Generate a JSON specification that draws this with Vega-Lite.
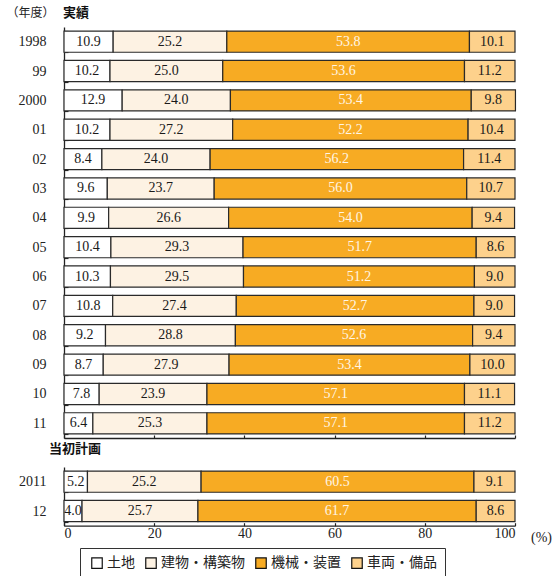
{
  "$schema": "https://vega.github.io/schema/vega-lite/v6.json",
  "padding": {"left": 5, "top": 6, "right": 5, "bottom": 0},
  "background": "white",
  "data": {"values": [
    {"year": "1998", "group": "実績", "cat": "土地", "value": 10.9},
    {"year": "1998", "group": "実績", "cat": "建物・構築物", "value": 25.2},
    {"year": "1998", "group": "実績", "cat": "機械・装置", "value": 53.8},
    {"year": "1998", "group": "実績", "cat": "車両・備品", "value": 10.1},
    {"year": "99", "group": "実績", "cat": "土地", "value": 10.2},
    {"year": "99", "group": "実績", "cat": "建物・構築物", "value": 25.0},
    {"year": "99", "group": "実績", "cat": "機械・装置", "value": 53.6},
    {"year": "99", "group": "実績", "cat": "車両・備品", "value": 11.2},
    {"year": "2000", "group": "実績", "cat": "土地", "value": 12.9},
    {"year": "2000", "group": "実績", "cat": "建物・構築物", "value": 24.0},
    {"year": "2000", "group": "実績", "cat": "機械・装置", "value": 53.4},
    {"year": "2000", "group": "実績", "cat": "車両・備品", "value": 9.8},
    {"year": "01", "group": "実績", "cat": "土地", "value": 10.2},
    {"year": "01", "group": "実績", "cat": "建物・構築物", "value": 27.2},
    {"year": "01", "group": "実績", "cat": "機械・装置", "value": 52.2},
    {"year": "01", "group": "実績", "cat": "車両・備品", "value": 10.4},
    {"year": "02", "group": "実績", "cat": "土地", "value": 8.4},
    {"year": "02", "group": "実績", "cat": "建物・構築物", "value": 24.0},
    {"year": "02", "group": "実績", "cat": "機械・装置", "value": 56.2},
    {"year": "02", "group": "実績", "cat": "車両・備品", "value": 11.4},
    {"year": "03", "group": "実績", "cat": "土地", "value": 9.6},
    {"year": "03", "group": "実績", "cat": "建物・構築物", "value": 23.7},
    {"year": "03", "group": "実績", "cat": "機械・装置", "value": 56.0},
    {"year": "03", "group": "実績", "cat": "車両・備品", "value": 10.7},
    {"year": "04", "group": "実績", "cat": "土地", "value": 9.9},
    {"year": "04", "group": "実績", "cat": "建物・構築物", "value": 26.6},
    {"year": "04", "group": "実績", "cat": "機械・装置", "value": 54.0},
    {"year": "04", "group": "実績", "cat": "車両・備品", "value": 9.4},
    {"year": "05", "group": "実績", "cat": "土地", "value": 10.4},
    {"year": "05", "group": "実績", "cat": "建物・構築物", "value": 29.3},
    {"year": "05", "group": "実績", "cat": "機械・装置", "value": 51.7},
    {"year": "05", "group": "実績", "cat": "車両・備品", "value": 8.6},
    {"year": "06", "group": "実績", "cat": "土地", "value": 10.3},
    {"year": "06", "group": "実績", "cat": "建物・構築物", "value": 29.5},
    {"year": "06", "group": "実績", "cat": "機械・装置", "value": 51.2},
    {"year": "06", "group": "実績", "cat": "車両・備品", "value": 9.0},
    {"year": "07", "group": "実績", "cat": "土地", "value": 10.8},
    {"year": "07", "group": "実績", "cat": "建物・構築物", "value": 27.4},
    {"year": "07", "group": "実績", "cat": "機械・装置", "value": 52.7},
    {"year": "07", "group": "実績", "cat": "車両・備品", "value": 9.0},
    {"year": "08", "group": "実績", "cat": "土地", "value": 9.2},
    {"year": "08", "group": "実績", "cat": "建物・構築物", "value": 28.8},
    {"year": "08", "group": "実績", "cat": "機械・装置", "value": 52.6},
    {"year": "08", "group": "実績", "cat": "車両・備品", "value": 9.4},
    {"year": "09", "group": "実績", "cat": "土地", "value": 8.7},
    {"year": "09", "group": "実績", "cat": "建物・構築物", "value": 27.9},
    {"year": "09", "group": "実績", "cat": "機械・装置", "value": 53.4},
    {"year": "09", "group": "実績", "cat": "車両・備品", "value": 10.0},
    {"year": "10", "group": "実績", "cat": "土地", "value": 7.8},
    {"year": "10", "group": "実績", "cat": "建物・構築物", "value": 23.9},
    {"year": "10", "group": "実績", "cat": "機械・装置", "value": 57.1},
    {"year": "10", "group": "実績", "cat": "車両・備品", "value": 11.1},
    {"year": "11", "group": "実績", "cat": "土地", "value": 6.4},
    {"year": "11", "group": "実績", "cat": "建物・構築物", "value": 25.3},
    {"year": "11", "group": "実績", "cat": "機械・装置", "value": 57.1},
    {"year": "11", "group": "実績", "cat": "車両・備品", "value": 11.2},
    {"year": "2011", "group": "当初計画", "cat": "土地", "value": 5.2},
    {"year": "2011", "group": "当初計画", "cat": "建物・構築物", "value": 25.2},
    {"year": "2011", "group": "当初計画", "cat": "機械・装置", "value": 60.5},
    {"year": "2011", "group": "当初計画", "cat": "車両・備品", "value": 9.1},
    {"year": "12", "group": "当初計画", "cat": "土地", "value": 4.0},
    {"year": "12", "group": "当初計画", "cat": "建物・構築物", "value": 25.7},
    {"year": "12", "group": "当初計画", "cat": "機械・装置", "value": 61.7},
    {"year": "12", "group": "当初計画", "cat": "車両・備品", "value": 8.6}
  ]},
  "transform": [
    {"stack": "value", "groupby": ["year"], "sort": [{"field": "cat", "order": "ascending"}], "as": ["v0", "v1"]},
    {"calculate": "(datum.v0 + datum.v1) / 2", "as": "mid"}
  ],
  "config": {
    "view": {"stroke": null},
    "axis": {"grid": false, "domainColor": "#222", "tickColor": "#222", "domainWidth": 1.3, "tickWidth": 1.2, "labelFont": "Liberation Serif", "labelFontSize": 14, "labelColor": "#222"},
    "title": {"font": "Noto Sans CJK JP", "fontWeight": "bold", "fontSize": 13, "color": "#111"}
  },
  "spacing": 4,
  "vconcat": [
    {
      "title": {"text": "実績", "anchor": "start", "frame": "group", "dx": -1, "offset": -14},
      "width": 451,
      "height": 411,
      "transform": [{"filter": "datum.group == '実績'"}],
      "encoding": {
        "y": {"field": "year", "type": "nominal", "sort": null,
          "scale": {"paddingInner": 0.28, "paddingOuter": 0.14},
          "axis": {"title": "（年度）", "titleAngle": 0, "titleX": -34, "titleY": -15, "titleAlign": "center", "titleBaseline": "middle", "titleFont": "Noto Sans CJK JP", "titleFontWeight": "normal", "titleFontSize": 12, "titleColor": "#222", "tickBand": "extent", "tickSize": -4, "labelPadding": 22}}
      },
      "layer": [
        {"mark": {"type": "bar", "stroke": "#2a2a2a", "strokeWidth": 1.2},
         "encoding": {
           "x": {"field": "v0", "type": "quantitative", "scale": {"domain": [0, 100]}, "axis": {"labels": false, "tickSize": -3, "values": [0, 20, 40, 60, 80, 100], "title": null}},
           "x2": {"field": "v1"},
           "color": {"field": "cat", "type": "nominal",
             "scale": {"domain": ["土地", "建物・構築物", "機械・装置", "車両・備品"], "range": ["#ffffff", "#fdf2e3", "#f7ab23", "#fdd18c"]},
             "legend": {"title": "\u3000", "titleOrient": "left", "titleFontSize": 13, "titlePadding": 2, "orient": "none", "legendX": 16, "legendY": 521, "direction": "horizontal", "strokeColor": "#333", "padding": 8, "symbolType": "square", "symbolSize": 110, "symbolStrokeColor": "#111", "symbolStrokeWidth": 1.2, "symbolOpacity": 1, "labelFont": "Noto Sans CJK JP", "labelFontSize": 14, "labelColor": "#222", "columnPadding": 8, "labelOffset": 3}}
         }},
        {"mark": {"type": "text", "font": "Liberation Serif", "fontSize": 14},
         "encoding": {
           "x": {"field": "mid", "type": "quantitative"},
           "text": {"field": "value", "type": "quantitative", "format": ".1f"},
           "color": {"condition": {"test": "datum.cat == '機械・装置'", "value": "#fff6e6"}, "value": "#1a1a1a"}
         }}
      ]
    },
    {
      "title": {"text": "当初計画", "anchor": "start", "frame": "group", "dx": -15, "offset": 4},
      "width": 451,
      "height": 58.7,
      "transform": [{"filter": "datum.group == '当初計画'"}],
      "encoding": {
        "y": {"field": "year", "type": "nominal", "sort": null,
          "scale": {"paddingInner": 0.28, "paddingOuter": 0.14},
          "axis": {"title": null, "tickBand": "extent", "tickSize": -4, "labelPadding": 22}}
      },
      "layer": [
        {"mark": {"type": "bar", "stroke": "#2a2a2a", "strokeWidth": 1.2},
         "encoding": {
           "x": {"field": "v0", "type": "quantitative", "scale": {"domain": [0, 100]}, "axis": {"tickSize": -3, "values": [0, 20, 40, 60, 80, 100], "title": "(%)", "titleX": 477, "titleY": 12, "titleAlign": "center", "titleBaseline": "middle", "titleFont": "Liberation Serif", "titleFontWeight": "normal", "titleFontSize": 14, "titleColor": "#222", "labelPadding": 4}},
           "x2": {"field": "v1"},
           "color": {"field": "cat", "type": "nominal",
             "scale": {"domain": ["土地", "建物・構築物", "機械・装置", "車両・備品"], "range": ["#ffffff", "#fdf2e3", "#f7ab23", "#fdd18c"]},
             "legend": {"title": "\u3000", "titleOrient": "left", "titleFontSize": 13, "titlePadding": 2, "orient": "none", "legendX": 16, "legendY": 521, "direction": "horizontal", "strokeColor": "#333", "padding": 8, "symbolType": "square", "symbolSize": 110, "symbolStrokeColor": "#111", "symbolStrokeWidth": 1.2, "symbolOpacity": 1, "labelFont": "Noto Sans CJK JP", "labelFontSize": 14, "labelColor": "#222", "columnPadding": 8, "labelOffset": 3}}
         }},
        {"mark": {"type": "text", "font": "Liberation Serif", "fontSize": 14},
         "encoding": {
           "x": {"field": "mid", "type": "quantitative"},
           "text": {"field": "value", "type": "quantitative", "format": ".1f"},
           "color": {"condition": {"test": "datum.cat == '機械・装置'", "value": "#fff6e6"}, "value": "#1a1a1a"}
         }}
      ]
    }
  ]
}
